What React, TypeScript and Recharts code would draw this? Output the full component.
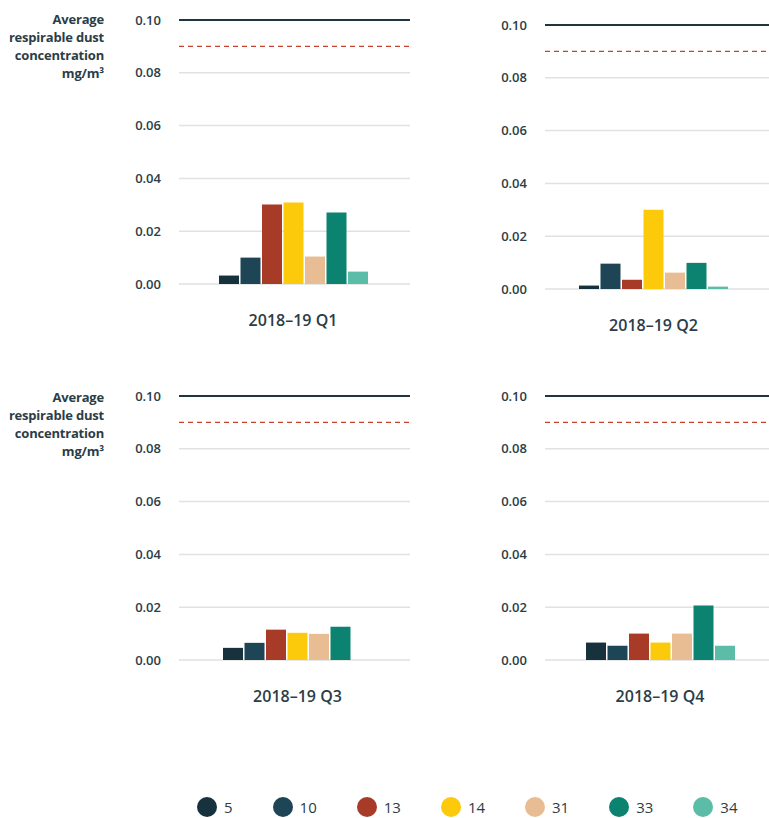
import { BarChart, Bar, XAxis, YAxis, CartesianGrid, ReferenceLine } from "recharts";

// quarters shown, one small chart each
const quarters = ["2018–19 Q1", "2018–19 Q2", "2018–19 Q3", "2018–19 Q4"];

// mine sites (legend order)
const sites = ["5", "10", "13", "14", "31", "33", "34"];
const siteColors = ["#17313d", "#1d4555", "#a83b27", "#fcca0b", "#e9bd93", "#0c8270", "#5bbca8"];

// average respirable dust per site, Q1..Q4 (mg/m³)
const site5 = [0.0032, 0.0013, 0.0046, 0.0066];
const site10 = [0.01, 0.0096, 0.0065, 0.0054];
const site13 = [0.0301, 0.0035, 0.0115, 0.01];
const site14 = [0.0309, 0.03, 0.0103, 0.0066];
const site31 = [0.0104, 0.0062, 0.0099, 0.01];
const site33 = [0.0271, 0.0099, 0.0126, 0.0206];
const site34 = [0.0047, 0.0009, 0, 0.0054];

const seriesValues = [site5, site10, site13, site14, site31, site33, site34];

const yTicks = [0, 0.02, 0.04, 0.06, 0.08, 0.1];
const exposureLimit = 0.1;
const actionLevel = 0.09;

const textColor = "#2b3d47";
const font = "'Open Sans', sans-serif";

// panel placement on the page
const panels = [
  { left: 110, top: 0, pad: { left: 0, right: 3 } },
  { left: 476, top: 4.6, pad: { left: 0, right: 14 } },
  { left: 110, top: 375.6, pad: { left: 6, right: 0 } },
  { left: 476, top: 375.6, pad: { left: 0, right: 1 } },
];

const rowFor = (q: number) => {
  const row: Record<string, string | number> = { quarter: quarters[q] };
  sites.forEach((s, i) => {
    row["s" + s] = seriesValues[i][q];
  });
  return [row];
};

const AxisTitle = ({ top }: { top: number }) => (
  <div
    style={{
      position: "absolute",
      left: 0,
      top,
      width: 104,
      textAlign: "right",
      fontFamily: font,
      fontWeight: 700,
      fontSize: 13,
      lineHeight: "18px",
      color: textColor,
      letterSpacing: -0.2,
    }}
  >
    Average
    <br />
    respirable dust
    <br />
    concentration
    <br />
    mg/m³
  </div>
);

const Panel = ({ q }: { q: number }) => {
  const p = panels[q];
  return (
    <div style={{ position: "absolute", left: p.left, top: p.top }}>
      <BarChart
        width={300}
        height={345}
        data={rowFor(q)}
        margin={{ top: 20, right: 0, bottom: 0, left: 0 }}
        barGap={1.5}
      >
        <CartesianGrid vertical={false} stroke="#dfe2e2" strokeWidth={1.5} />
        <XAxis
          dataKey="quarter"
          axisLine={false}
          tickLine={false}
          height={61}
          tickMargin={25}
          padding={p.pad}
          tick={{ fill: textColor, fontFamily: font, fontSize: 16, fontWeight: 600 }}
        />
        <YAxis
          domain={[0, 0.1]}
          ticks={yTicks}
          width={69}
          axisLine={false}
          tickLine={false}
          tickMargin={12}
          tickFormatter={(v: number) => v.toFixed(2)}
          tick={{ fill: textColor, fontFamily: font, fontSize: 13, fontWeight: 600 }}
        />
        <ReferenceLine y={exposureLimit} stroke="#1f3541" strokeWidth={2} />
        <ReferenceLine y={actionLevel} stroke="#c4432d" strokeWidth={1.2} strokeDasharray="5 4" />
        {sites.map((s, i) => (
          <Bar key={s} dataKey={"s" + s} fill={siteColors[i]} barSize={20} isAnimationActive={false} />
        ))}
      </BarChart>
    </div>
  );
};

const Legend = () => (
  <div
    style={{
      position: "absolute",
      left: 197,
      top: 797,
      display: "flex",
      alignItems: "center",
      gap: 40,
      fontFamily: font,
      fontSize: 15,
      color: textColor,
    }}
  >
    {sites.map((s, i) => (
      <div key={s} style={{ display: "flex", alignItems: "center", gap: 7 }}>
        <span
          style={{
            display: "inline-block",
            width: 20,
            height: 20,
            borderRadius: "50%",
            background: siteColors[i],
          }}
        />
        <span>{s}</span>
      </div>
    ))}
  </div>
);

export default function App() {
  return (
    <div
      style={{
        position: "absolute",
        left: 0,
        top: 0,
        width: 769,
        height: 818,
        overflow: "hidden",
        background: "#fff",
      }}
    >
      <AxisTitle top={10} />
      <AxisTitle top={388} />
      {quarters.map((_, q) => (
        <Panel key={q} q={q} />
      ))}
      <Legend />
    </div>
  );
}
